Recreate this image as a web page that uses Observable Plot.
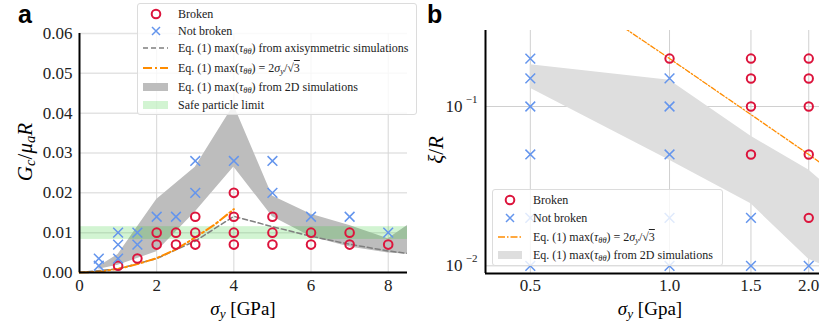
<!DOCTYPE html>
<html><head><meta charset="utf-8">
<script src="https://cdn.jsdelivr.net/npm/d3@7"></script>
<script src="https://cdn.jsdelivr.net/npm/@observablehq/plot@0.6"></script>
<style>
body{margin:0;background:#fff;}
#wrap{position:relative;width:830px;height:327px;overflow:hidden;font-family:"Liberation Serif","DejaVu Serif",serif;}
.panel{position:absolute;top:0;}
.lbl{position:absolute;white-space:nowrap;font-family:"Liberation Serif","DejaVu Serif",serif;color:#000;line-height:1;}
.tag{position:absolute;font-family:"Liberation Sans",Arial,sans-serif;font-weight:bold;font-size:25px;line-height:1;}
.legend{position:absolute;background:rgba(255,255,255,0.8);border:1px solid #dcdcdc;border-radius:3px;box-sizing:border-box;}
.row{position:absolute;left:0;height:0;width:100%;}
.row > svg{position:absolute;left:0;top:-6px;}
.row > span{position:absolute;left:40px;top:0;transform:translateY(-50%);font-size:12px;white-space:nowrap;line-height:1;color:#222;}
sub{font-size:70%;vertical-align:-0.25em;line-height:0;}
.ov{text-decoration:overline;}
</style></head><body><div id="wrap"></div>
<script>
// ---------- Panel a data ----------
const aBrokenS  = [1, 1.5, 2, 2, 2.5, 2.5, 3, 3, 3, 4, 4, 4, 4, 5, 5, 5, 6, 6, 7, 7, 8];
const aBrokenG  = [0.0017, 0.0035, 0.010, 0.007, 0.010, 0.007, 0.014, 0.010, 0.007, 0.020, 0.014, 0.010, 0.007, 0.014, 0.010, 0.007, 0.010, 0.007, 0.010, 0.007, 0.007];
const aNotS     = [0.5, 0.5, 1, 1, 1, 1.5, 1.5, 2, 2.5, 3, 3, 4, 5, 5, 6, 7, 8];
const aNotG     = [0.0035, 0.0017, 0.010, 0.007, 0.0035, 0.010, 0.007, 0.014, 0.014, 0.028, 0.020, 0.028, 0.028, 0.020, 0.014, 0.014, 0.010];
const aBandS    = [0.5, 1, 2, 3, 4, 5, 6, 7, 8, 8.5];
const aBandLo   = [0.0008, 0.0018, 0.0052, 0.0152, 0.0265, 0.0140, 0.0090, 0.0064, 0.0049, 0.0046];
const aBandHi   = [0.0015, 0.0045, 0.0183, 0.0264, 0.0420, 0.0192, 0.0146, 0.0118, 0.0085, 0.0118];
const aAxiS     = [0, 1, 2, 3, 4, 5, 6, 7, 8, 8.5];
const aAxiG     = [0, 0.0009, 0.0035, 0.0079, 0.0141, 0.0115, 0.0091, 0.0071, 0.0054, 0.0048];
const aOrS      = [0, 0.5, 1, 1.5, 2, 2.5, 3, 3.5, 4];
const aOrG      = [0, 0.0002, 0.0009, 0.0021, 0.0036, 0.0058, 0.0088, 0.0120, 0.0159];
const aSafe     = [0.0083, 0.0115];
const aXTicks   = [0, 2, 4, 6, 8];
const aYTicks   = [0, 0.01, 0.02, 0.03, 0.04, 0.05, 0.06];

// ---------- Panel b data ----------
const bBrokenS  = [1.0, 1.5, 1.5, 1.5, 1.5, 2.0, 2.0, 2.0, 2.0, 2.0];
const bBrokenX  = [0.2, 0.2, 0.15, 0.1, 0.05, 0.2, 0.15, 0.1, 0.05, 0.02];
const bNotS     = [0.5, 0.5, 0.5, 0.5, 0.5, 0.5, 1.0, 1.0, 1.0, 1.0, 1.0, 1.5, 1.5, 2.0];
const bNotX     = [0.2, 0.15, 0.1, 0.05, 0.02, 0.01, 0.15, 0.1, 0.05, 0.02, 0.01, 0.02, 0.01, 0.01];
const bBandS    = [0.5, 1.0, 1.5, 2.0, 2.11];
const bBandLo   = [0.130, 0.046, 0.0245, 0.011, 0.0103];
const bBandHi   = [0.183, 0.146, 0.065, 0.040, 0.035];
const bOrS      = [0.8, 1.0, 1.5, 2.0, 2.2];
const bOrX      = [0.31, 0.2, 0.089, 0.05, 0.041];
const bXTicks   = [0.5, 1.0, 1.5, 2.0];
const bYTicks   = [0.01, 0.1];
const bYTickExp = ["\u22122", "\u22121"];

const zip = (xs, ys) => xs.map((x, i) => ({x, y: ys[i]}));
const band = (xs, lo, hi) => xs.map((x, i) => ({x, lo: lo[i], hi: hi[i]}));

const RED = "#dc143c", BLUE = "#6495ed", ORANGE = "#ff8c00";
const style = {fontFamily: "'Liberation Serif', 'DejaVu Serif', serif", fontSize: "17px", background: "transparent", overflow: "visible", color: "#222"};

const wrap = document.getElementById("wrap");

// ---------- Panel a ----------
const chartA = Plot.plot({
  width: 420, height: 327,
  marginLeft: 79, marginRight: 13, marginTop: 33, marginBottom: 55,
  style,
  x: {domain: [0, 8.5], axis: null},
  y: {domain: [0, 0.06], axis: null},
  marks: [
    Plot.gridY(aYTicks, {stroke: "#e3e3e3", strokeOpacity: 1, strokeWidth: 1.5}),
    Plot.gridX(aXTicks, {stroke: "#d6d6d6", strokeOpacity: 1, strokeWidth: 1}),
    Plot.areaY(band(aBandS, aBandLo, aBandHi), {x: "x", y1: "lo", y2: "hi", fill: "#bdbdbd", clip: true}),
    Plot.rect([{lo: aSafe[0], hi: aSafe[1]}], {y1: "lo", y2: "hi", fill: "#32cd32", fillOpacity: 0.22}),
    Plot.line(zip(aAxiS, aAxiG), {x: "x", y: "y", stroke: "#7f7f7f", strokeWidth: 1.5, strokeDasharray: "5,3", clip: true}),
    Plot.line(zip(aOrS, aOrG), {x: "x", y: "y", stroke: ORANGE, strokeWidth: 2, strokeDasharray: "9,3,2,3"}),
    Plot.dot(zip(aBrokenS, aBrokenG), {x: "x", y: "y", r: 4.3, stroke: RED, strokeWidth: 2, fill: "none"}),
    Plot.dot(zip(aNotS, aNotG), {x: "x", y: "y", symbol: "times", r: 4.5, stroke: BLUE, strokeWidth: 1.5}),
    Plot.axisY(aYTicks, {tickSize: 0, tickPadding: 7, tickFormat: d3.format(".2f"), label: null}),
    Plot.axisX(aXTicks, {tickSize: 0, tickPadding: 6, label: null}),
    Plot.ruleX([0], {stroke: "#000", strokeWidth: 2}),
    Plot.ruleY([0], {stroke: "#000", strokeWidth: 2})
  ]
});
chartA.classList.add("panel");
chartA.style.left = "0px";
wrap.appendChild(chartA);

// ---------- Panel b ----------
const chartB = Plot.plot({
  width: 410, height: 327,
  marginLeft: 65, marginRight: 11, marginTop: 30, marginBottom: 54,
  style,
  x: {type: "log", domain: [0.4, 2.11], axis: null},
  y: {type: "log", domain: [0.00895, 0.30], axis: null},
  marks: [
    Plot.gridY(bYTicks, {stroke: "#d0d0d0", strokeOpacity: 1, strokeWidth: 1}),
    Plot.gridX(bXTicks, {stroke: "#d0d0d0", strokeOpacity: 1, strokeWidth: 1}),
    Plot.areaY(band(bBandS, bBandLo, bBandHi), {x: "x", y1: "lo", y2: "hi", fill: "#dedede", clip: true}),
    Plot.line(zip(bOrS, bOrX), {x: "x", y: "y", stroke: ORANGE, strokeWidth: 1.3, strokeDasharray: "5,2,1.5,2", clip: true}),
    Plot.dot(zip(bBrokenS, bBrokenX), {x: "x", y: "y", r: 4.2, stroke: RED, strokeWidth: 2, fill: "none"}),
    Plot.dot(zip(bNotS, bNotX), {x: "x", y: "y", symbol: "times", r: 4.5, stroke: BLUE, strokeWidth: 1.5}),
    Plot.axisX(bXTicks, {tickSize: 0, tickPadding: 5, tickFormat: d3.format(".1f"), label: null}),
    Plot.text(bYTicks, {y: d => d, frameAnchor: "left", dx: -23, textAnchor: "end", text: () => "10", fontSize: 17}),
    Plot.text(bYTicks, {y: d => d, frameAnchor: "left", dx: -8, dy: -7, textAnchor: "end", text: (d, i) => bYTickExp[i], fontSize: 11}),
    Plot.ruleX([0.4], {stroke: "#000", strokeWidth: 2}),
    Plot.ruleY([0.00895], {stroke: "#000", strokeWidth: 2})
  ]
});
chartB.classList.add("panel");
chartB.style.left = "420px";
wrap.appendChild(chartB);

// ---------- Labels ----------
function addLabel(html, css, cls = "lbl") {
  const d = document.createElement("div");
  d.className = cls;
  d.innerHTML = html;
  Object.assign(d.style, css);
  wrap.appendChild(d);
  return d;
}
addLabel("a", {left: "18px", top: "2px"}, "tag");
addLabel("b", {left: "427px", top: "2px"}, "tag");
addLabel("<i>σ</i><sub><i>y</i></sub> [GPa]", {left: "243px", top: "308px", fontSize: "19px", transform: "translate(-50%,-50%)"});
addLabel("<i>G</i><sub><i>c</i></sub>/<i>μ</i><sub><i>a</i></sub><i>R</i>", {left: "25px", top: "152px", fontSize: "21px", transform: "translate(-50%,-50%) rotate(-90deg)"});
addLabel("<i>σ</i><sub><i>y</i></sub> [Gpa]", {left: "650px", top: "308px", fontSize: "19px", transform: "translate(-50%,-50%)"});
addLabel("<i>ξ</i>/<i>R</i>", {left: "436px", top: "150px", fontSize: "21px", transform: "translate(-50%,-50%) rotate(-90deg)"});

// ---------- Legends ----------
const tau = "max(<i>τ</i><sub><i>θθ</i></sub>)";
const swatch = {
  circle: c => `<circle cx="${c}" cy="6" r="4.3" fill="none" stroke="${RED}" stroke-width="2"/>`,
  cross: c => `<path d="M${c-4},2L${c+4},10M${c-4},10L${c+4},2" stroke="${BLUE}" stroke-width="1.5"/>`,
  dash: c => `<line x1="${c-13}" x2="${c+12}" y1="6" y2="6" stroke="#7f7f7f" stroke-width="1.5" stroke-dasharray="5,3"/>`,
  orange: c => `<line x1="${c-13}" x2="${c+12}" y1="6" y2="6" stroke="${ORANGE}" stroke-width="2" stroke-dasharray="9,3,2,3"/>`,
  orangeThin: c => `<line x1="${c-12}" x2="${c+12}" y1="6" y2="6" stroke="${ORANGE}" stroke-width="1.3" stroke-dasharray="7,2,1.5,2"/>`,
  gray: c => `<rect x="${c-13}" y="2" width="25" height="8" fill="#bdbdbd"/>`,
  lightgray: c => `<rect x="${c-12}" y="2" width="24" height="8" fill="#dedede"/>`,
  green: c => `<rect x="${c-13}" y="2" width="25" height="8" fill="#32cd32" fill-opacity="0.22"/>`
};
function legend(box, cx, rows) {
  const d = document.createElement("div");
  d.className = "legend";
  Object.assign(d.style, box);
  for (const [y, sw, html] of rows) {
    const r = document.createElement("div");
    r.className = "row";
    r.style.top = y + "px";
    r.innerHTML = `<svg width="40" height="12">${swatch[sw](cx)}</svg><span>${html}</span>`;
    d.appendChild(r);
  }
  wrap.appendChild(d);
}
legend({left: "137px", top: "3px", width: "280px", height: "112px"}, 18, [
  [10, "circle", "Broken"],
  [27, "cross", "Not broken"],
  [44, "dash", `Eq. (1) ${tau} from axisymmetric simulations`],
  [64, "orange", `Eq. (1) ${tau} = 2<i>σ</i><sub><i>y</i></sub>/√<span class="ov">3</span>`],
  [83, "gray", `Eq. (1) ${tau} from 2D simulations`],
  [101, "green", "Safe particle limit"]
]);
legend({left: "492px", top: "189px", width: "231px", height: "77px"}, 17, [
  [10, "circle", "Broken"],
  [28, "cross", "Not broken"],
  [47, "orangeThin", `Eq. (1) ${tau} = 2<i>σ</i><sub><i>y</i></sub>/√<span class="ov">3</span>`],
  [65, "lightgray", `Eq. (1) ${tau} from 2D simulations`]
]);
</script></body></html>
